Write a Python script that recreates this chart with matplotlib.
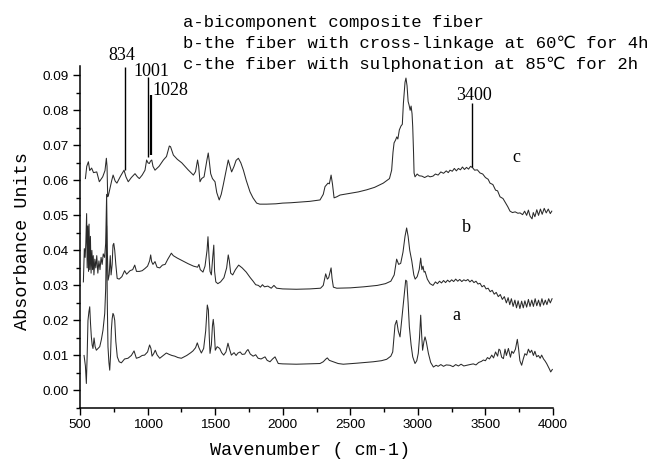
import numpy as np
import matplotlib
matplotlib.use("Agg")
import matplotlib.pyplot as plt
from matplotlib.ticker import MultipleLocator, FormatStrFormatter

# FTIR spectra (wavenumber, absorbance)
spectrum_a = [
    (530, 0.0100), (540, 0.0070), (547, 0.0020), (553, 0.0100), (559, 0.0200), (566, 0.0225),
    (572, 0.0239), (578, 0.0190), (584, 0.0153), (590, 0.0130), (596, 0.0120), (604, 0.0150),
    (612, 0.0125), (621, 0.0115), (633, 0.0120), (646, 0.0125), (658, 0.0145), (670, 0.0172),
    (683, 0.0220), (690, 0.0290), (697, 0.0470), (702, 0.0250), (707, 0.0125), (714, 0.0080),
    (720, 0.0058), (726, 0.0100), (732, 0.0172), (738, 0.0205), (744, 0.0220), (750, 0.0215),
    (757, 0.0200), (765, 0.0140), (776, 0.0096), (790, 0.0082), (806, 0.0079), (830, 0.0090),
    (855, 0.0092), (880, 0.0100), (900, 0.0113), (917, 0.0092), (940, 0.0095), (960, 0.0100),
    (978, 0.0101), (1000, 0.0110), (1015, 0.0130), (1025, 0.0120), (1033, 0.0098), (1045, 0.0105),
    (1057, 0.0115), (1070, 0.0102), (1090, 0.0092), (1110, 0.0098), (1139, 0.0107), (1160, 0.0103),
    (1180, 0.0100), (1201, 0.0098), (1225, 0.0094), (1250, 0.0092), (1290, 0.0100), (1320, 0.0108),
    (1336, 0.0113), (1355, 0.0122), (1368, 0.0136), (1380, 0.0122), (1398, 0.0107), (1415, 0.0120),
    (1430, 0.0170), (1442, 0.0244), (1450, 0.0230), (1457, 0.0150), (1462, 0.0106), (1472, 0.0130),
    (1480, 0.0185), (1486, 0.0203), (1492, 0.0180), (1501, 0.0115), (1515, 0.0125), (1534, 0.0120),
    (1548, 0.0108), (1563, 0.0101), (1580, 0.0110), (1595, 0.0135), (1605, 0.0120), (1620, 0.0101),
    (1640, 0.0108), (1655, 0.0100), (1669, 0.0107), (1685, 0.0110), (1700, 0.0103), (1719, 0.0104),
    (1733, 0.0113), (1743, 0.0117), (1760, 0.0104), (1781, 0.0098), (1800, 0.0102), (1818, 0.0092),
    (1840, 0.0090), (1869, 0.0096), (1885, 0.0086), (1906, 0.0082), (1925, 0.0090), (1943, 0.0096),
    (1967, 0.0077), (2000, 0.0076), (2100, 0.0075), (2200, 0.0076), (2276, 0.0077), (2300, 0.0082),
    (2320, 0.0090), (2330, 0.0093), (2345, 0.0086), (2374, 0.0082), (2410, 0.0077), (2448, 0.0075),
    (2550, 0.0078), (2670, 0.0082), (2730, 0.0085), (2769, 0.0089), (2800, 0.0098), (2814, 0.0110),
    (2825, 0.0160), (2831, 0.0187), (2843, 0.0200), (2855, 0.0170), (2868, 0.0153), (2880, 0.0200),
    (2888, 0.0230), (2900, 0.0280), (2910, 0.0315), (2918, 0.0312), (2928, 0.0250), (2937, 0.0182),
    (2950, 0.0130), (2962, 0.0096), (2979, 0.0077), (2992, 0.0085), (3003, 0.0106), (3012, 0.0150),
    (3021, 0.0215), (3028, 0.0160), (3035, 0.0115), (3045, 0.0140), (3053, 0.0153), (3062, 0.0140),
    (3078, 0.0106), (3095, 0.0080), (3115, 0.0067), (3135, 0.0072), (3150, 0.0069), (3170, 0.0074),
    (3190, 0.0069), (3210, 0.0073), (3238, 0.0072), (3260, 0.0068), (3280, 0.0074), (3300, 0.0070),
    (3320, 0.0075), (3340, 0.0070), (3362, 0.0072), (3385, 0.0074), (3410, 0.0076), (3430, 0.0073),
    (3450, 0.0080), (3470, 0.0083), (3485, 0.0087), (3500, 0.0085), (3515, 0.0094), (3530, 0.0090),
    (3547, 0.0101), (3560, 0.0093), (3575, 0.0110), (3590, 0.0098), (3600, 0.0118), (3608, 0.0115),
    (3620, 0.0095), (3633, 0.0091), (3645, 0.0118), (3655, 0.0100), (3670, 0.0120), (3685, 0.0095),
    (3695, 0.0112), (3707, 0.0106), (3722, 0.0118), (3736, 0.0146), (3745, 0.0120), (3755, 0.0085),
    (3768, 0.0072), (3780, 0.0090), (3792, 0.0105), (3805, 0.0101), (3818, 0.0118), (3830, 0.0108),
    (3842, 0.0115), (3855, 0.0100), (3866, 0.0112), (3879, 0.0096), (3892, 0.0100), (3905, 0.0092),
    (3916, 0.0101), (3930, 0.0090), (3940, 0.0085), (3953, 0.0077), (3965, 0.0068), (3975, 0.0060),
    (3983, 0.0053), (3995, 0.0060),
]

spectrum_b = [
    (525, 0.0310), (532, 0.0405), (538, 0.0380), (543, 0.0420), (549, 0.0505), (553, 0.0350),
    (558, 0.0470), (563, 0.0340), (567, 0.0475), (572, 0.0345), (577, 0.0440), (582, 0.0335),
    (588, 0.0400), (593, 0.0345), (598, 0.0385), (603, 0.0330), (610, 0.0375), (617, 0.0350),
    (624, 0.0385), (632, 0.0335), (640, 0.0370), (648, 0.0345), (656, 0.0380), (664, 0.0360),
    (672, 0.0390), (682, 0.0380), (690, 0.0420), (697, 0.0560), (702, 0.0400), (708, 0.0315),
    (716, 0.0330), (724, 0.0385), (730, 0.0330), (738, 0.0360), (744, 0.0415), (750, 0.0420),
    (757, 0.0400), (765, 0.0360), (775, 0.0320), (790, 0.0318), (810, 0.0325), (830, 0.0342),
    (845, 0.0332), (870, 0.0342), (890, 0.0345), (905, 0.0358), (918, 0.0340), (940, 0.0340),
    (960, 0.0342), (980, 0.0348), (1000, 0.0355), (1015, 0.0370), (1023, 0.0387), (1030, 0.0368),
    (1040, 0.0360), (1055, 0.0368), (1070, 0.0352), (1090, 0.0350), (1110, 0.0358), (1130, 0.0360),
    (1150, 0.0375), (1176, 0.0392), (1190, 0.0385), (1220, 0.0378), (1260, 0.0370), (1300, 0.0362),
    (1340, 0.0355), (1370, 0.0352), (1380, 0.0360), (1390, 0.0345), (1410, 0.0338), (1425, 0.0355),
    (1440, 0.0400), (1447, 0.0439), (1455, 0.0380), (1462, 0.0340), (1472, 0.0330), (1482, 0.0380),
    (1490, 0.0415), (1496, 0.0340), (1505, 0.0310), (1520, 0.0305), (1540, 0.0310), (1565, 0.0322),
    (1585, 0.0350), (1597, 0.0387), (1605, 0.0370), (1615, 0.0335), (1630, 0.0330), (1650, 0.0345),
    (1674, 0.0358), (1700, 0.0350), (1730, 0.0338), (1760, 0.0322), (1781, 0.0312), (1800, 0.0302),
    (1820, 0.0300), (1835, 0.0295), (1850, 0.0302), (1865, 0.0296), (1890, 0.0298), (1915, 0.0292),
    (1935, 0.0300), (1955, 0.0292), (2000, 0.0290), (2100, 0.0289), (2200, 0.0290), (2280, 0.0292),
    (2300, 0.0300), (2318, 0.0333), (2330, 0.0318), (2340, 0.0322), (2358, 0.0350), (2365, 0.0320),
    (2375, 0.0295), (2400, 0.0292), (2500, 0.0293), (2600, 0.0296), (2700, 0.0300), (2760, 0.0305),
    (2800, 0.0312), (2825, 0.0330), (2843, 0.0375), (2858, 0.0360), (2873, 0.0363), (2890, 0.0395),
    (2905, 0.0440), (2917, 0.0464), (2928, 0.0440), (2940, 0.0400), (2955, 0.0370), (2970, 0.0330),
    (2980, 0.0318), (2995, 0.0325), (3010, 0.0345), (3021, 0.0378), (3030, 0.0345), (3038, 0.0355),
    (3046, 0.0338), (3053, 0.0340), (3070, 0.0318), (3090, 0.0305), (3112, 0.0300), (3130, 0.0310),
    (3145, 0.0305), (3160, 0.0312), (3175, 0.0307), (3190, 0.0314), (3205, 0.0308), (3220, 0.0315),
    (3235, 0.0310), (3250, 0.0316), (3265, 0.0311), (3280, 0.0318), (3295, 0.0312), (3310, 0.0317),
    (3325, 0.0311), (3340, 0.0316), (3355, 0.0313), (3370, 0.0317), (3385, 0.0310), (3400, 0.0315),
    (3415, 0.0308), (3430, 0.0312), (3445, 0.0304), (3460, 0.0306), (3475, 0.0296), (3490, 0.0300),
    (3505, 0.0290), (3520, 0.0292), (3535, 0.0282), (3550, 0.0286), (3565, 0.0275), (3580, 0.0280),
    (3595, 0.0268), (3610, 0.0274), (3625, 0.0260), (3640, 0.0268), (3655, 0.0250), (3668, 0.0265),
    (3680, 0.0245), (3692, 0.0262), (3705, 0.0240), (3718, 0.0258), (3730, 0.0236), (3742, 0.0256),
    (3755, 0.0234), (3768, 0.0255), (3780, 0.0236), (3792, 0.0256), (3805, 0.0238), (3818, 0.0260),
    (3830, 0.0240), (3843, 0.0258), (3855, 0.0240), (3868, 0.0262), (3880, 0.0242), (3893, 0.0258),
    (3905, 0.0240), (3918, 0.0262), (3930, 0.0244), (3943, 0.0258), (3955, 0.0245), (3968, 0.0262),
    (3980, 0.0250), (3993, 0.0262),
]

spectrum_c = [
    (540, 0.0605), (550, 0.0640), (562, 0.0653), (572, 0.0628), (586, 0.0635), (600, 0.0622),
    (624, 0.0624), (643, 0.0596), (668, 0.0610), (685, 0.0628), (695, 0.0663), (700, 0.0640),
    (705, 0.0553), (712, 0.0560), (722, 0.0578), (735, 0.0600), (745, 0.0615), (760, 0.0598),
    (773, 0.0592), (800, 0.0612), (826, 0.0629), (840, 0.0610), (857, 0.0596), (880, 0.0608),
    (907, 0.0619), (925, 0.0610), (939, 0.0605), (960, 0.0615), (981, 0.0629), (993, 0.0658),
    (1003, 0.0650), (1013, 0.0648), (1022, 0.0655), (1031, 0.0658), (1040, 0.0640), (1055, 0.0629),
    (1085, 0.0640), (1117, 0.0658), (1140, 0.0668), (1161, 0.0698), (1170, 0.0696), (1191, 0.0672),
    (1220, 0.0660), (1253, 0.0650), (1300, 0.0630), (1339, 0.0615), (1355, 0.0625), (1370, 0.0658),
    (1378, 0.0640), (1388, 0.0596), (1400, 0.0605), (1418, 0.0610), (1440, 0.0660), (1449, 0.0678),
    (1458, 0.0650), (1467, 0.0619), (1480, 0.0605), (1499, 0.0596), (1512, 0.0565), (1530, 0.0544),
    (1545, 0.0560), (1560, 0.0587), (1580, 0.0625), (1597, 0.0658), (1610, 0.0640), (1622, 0.0624),
    (1640, 0.0640), (1655, 0.0657), (1672, 0.0663), (1690, 0.0650), (1709, 0.0629), (1730, 0.0600),
    (1758, 0.0567), (1780, 0.0550), (1807, 0.0535), (1830, 0.0532), (1881, 0.0532), (1950, 0.0533),
    (2000, 0.0535), (2060, 0.0536), (2128, 0.0538), (2200, 0.0540), (2276, 0.0544), (2300, 0.0560),
    (2313, 0.0582), (2335, 0.0592), (2345, 0.0590), (2358, 0.0615), (2368, 0.0590), (2380, 0.0550),
    (2400, 0.0553), (2424, 0.0558), (2500, 0.0563), (2560, 0.0567), (2622, 0.0573), (2680, 0.0580),
    (2744, 0.0592), (2790, 0.0605), (2806, 0.0629), (2816, 0.0680), (2824, 0.0707), (2835, 0.0715),
    (2844, 0.0724), (2852, 0.0718), (2863, 0.0744), (2875, 0.0755), (2885, 0.0760), (2893, 0.0820),
    (2905, 0.0880), (2912, 0.0892), (2920, 0.0870), (2928, 0.0825), (2935, 0.0815), (2943, 0.0800),
    (2950, 0.0812), (2957, 0.0790), (2962, 0.0753), (2968, 0.0680), (2972, 0.0621), (2979, 0.0610),
    (2995, 0.0618), (3010, 0.0613), (3030, 0.0612), (3050, 0.0608), (3075, 0.0613), (3090, 0.0610),
    (3112, 0.0612), (3130, 0.0618), (3150, 0.0615), (3170, 0.0624), (3190, 0.0620), (3210, 0.0627),
    (3225, 0.0622), (3238, 0.0629), (3255, 0.0626), (3270, 0.0634), (3285, 0.0627), (3300, 0.0634),
    (3315, 0.0630), (3330, 0.0638), (3345, 0.0631), (3360, 0.0637), (3375, 0.0632), (3390, 0.0640),
    (3405, 0.0636), (3420, 0.0629), (3440, 0.0630), (3460, 0.0621), (3480, 0.0618), (3500, 0.0608),
    (3520, 0.0603), (3534, 0.0592), (3555, 0.0588), (3575, 0.0572), (3590, 0.0570), (3608, 0.0553),
    (3630, 0.0548), (3650, 0.0535), (3665, 0.0525), (3682, 0.0512), (3700, 0.0508), (3720, 0.0510),
    (3740, 0.0506), (3756, 0.0507), (3775, 0.0502), (3790, 0.0512), (3805, 0.0500), (3818, 0.0515),
    (3830, 0.0498), (3845, 0.0490), (3854, 0.0508), (3866, 0.0496), (3880, 0.0516), (3893, 0.0500),
    (3907, 0.0518), (3920, 0.0503), (3935, 0.0520), (3950, 0.0507), (3965, 0.0518), (3980, 0.0505),
    (3991, 0.0512),
]

# marked bands: wavenumber, line bottom, line top
peak_marks = [834, 1001, 1028, 3400]
peak_bottom = [0.0629, 0.0667, 0.0672, 0.0638]
peak_top = [0.0924, 0.0895, 0.0844, 0.0821]

curve_names = ["a", "b", "c"]
legend_lines = [
    "a-bicomponent composite fiber",
    "b-the fiber with cross-linkage at 60℃ for 4h",
    "c-the fiber with sulphonation at 85℃ for 2h",
]

mono = ["Liberation Mono", "DejaVu Sans Mono", "DejaVu Sans"]
serif = ["Liberation Serif", "DejaVu Serif"]

fig = plt.figure(figsize=(6.47, 4.61), dpi=100)
ax = fig.add_axes([80 / 647, 53 / 461, 473 / 647, 341.5 / 461])

for spec in (spectrum_a, spectrum_b, spectrum_c):
    arr = np.array(spec)
    ax.plot(arr[:, 0], arr[:, 1], color="#2a2a2a", lw=0.75)

for x, y0, y1 in zip(peak_marks, peak_bottom, peak_top):
    ax.vlines(x, y0, y1, color="black", lw=1.6 if x == 1028 else 1.0, clip_on=False)

# peak labels above the lines
label_pos = {834: (807, 0.0944), 1001: (1029, 0.0898), 1028: (1166, 0.0844), 3400: (3412, 0.0829)}
for x in peak_marks:
    lx, ly = label_pos[x]
    ax.text(lx, ly, str(x), ha="center", va="baseline", fontsize=13,
            family=serif, clip_on=False)

# curve letters
for name, (lx, ly) in zip(curve_names, [(3285, 0.0201), (3356, 0.0452), (3726, 0.0652)]):
    ax.text(lx, ly, name, ha="center", va="baseline", fontsize=13, family=serif)

for i, line in enumerate(legend_lines):
    fig.text(183 / 647, 1 - (27 + 21 * i) / 461, line, ha="left", va="baseline",
             fontsize=12.4, family=mono)

ax.set_xlim(500, 4000)
ax.set_ylim(-0.005, 0.0925)
ax.xaxis.set_major_locator(MultipleLocator(500))
ax.xaxis.set_minor_locator(MultipleLocator(250))
ax.yaxis.set_major_locator(MultipleLocator(0.01))
ax.yaxis.set_minor_locator(MultipleLocator(0.005))
ax.yaxis.set_major_formatter(FormatStrFormatter("%.2f"))

for side in ("top", "right"):
    ax.spines[side].set_visible(False)
for side in ("left", "bottom"):
    ax.spines[side].set_linewidth(1.1)

ax.tick_params(which="major", direction="out", length=5, width=1.0,
               labelsize=9.7, pad=3)
ax.tick_params(which="minor", direction="out", length=3, width=1.0)
for lbl in ax.get_xticklabels() + ax.get_yticklabels():
    lbl.set_family(["Liberation Sans", "DejaVu Sans"])

fig.text(23 / 647, 1 - 241 / 461, "Absorbance Units", rotation=90,
         ha="center", va="center", fontsize=13.3, family=mono)
fig.text(310 / 647, 1 - 450 / 461, "Wavenumber ( cm-1)",
         ha="center", va="center", fontsize=13.3, family=mono)

fig.savefig("out.png", dpi=100)
